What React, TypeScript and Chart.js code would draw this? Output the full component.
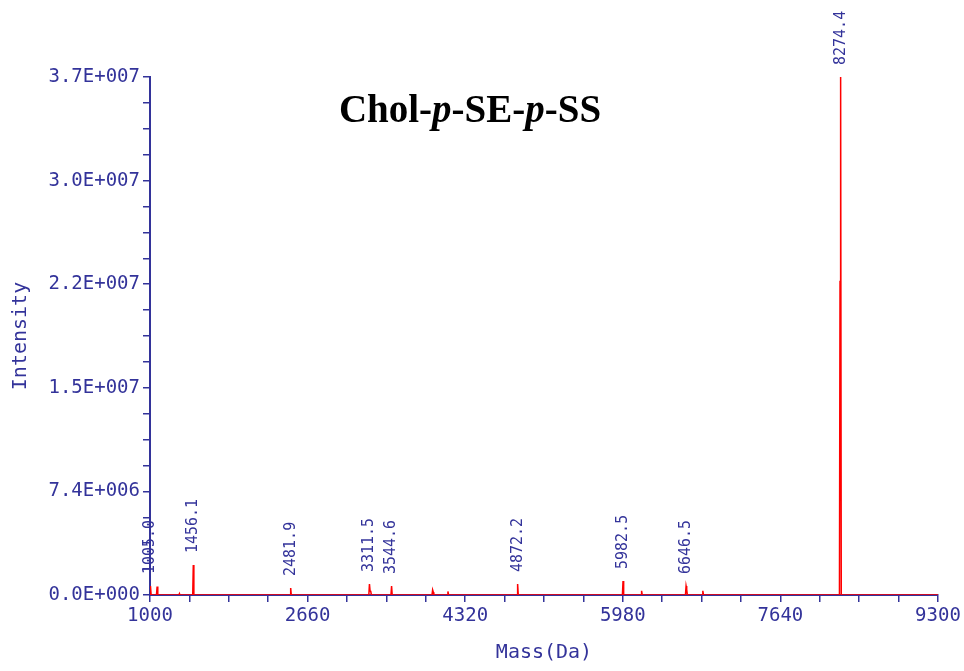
import React, { useEffect, useRef } from "react";
import { Chart, registerables } from "chart.js";

Chart.register(...registerables);

// Spectrum trace (mass in Da, intensity in counts)
const spectrumMass = [
  1000, 1005, 1012, 1068, 1075, 1082, 1305, 1310, 1316, 1450, 1456.1, 1462,
  2476, 2481.9, 2488, 3305, 3311.5, 3318, 3325, 3332, 3538, 3544.6, 3551,
  3970, 3977, 3984, 3990, 4132, 4138, 4145, 4866, 4872.2, 4879, 5976, 5982.5,
  5989, 6172, 6178, 6185, 6640, 6646.5, 6653, 6660, 6817, 6823, 6830, 8262,
  8268, 8274.4, 8281, 9300,
];
const spectrumIntensity = [
  0, 640000, 0, 0, 600000, 0, 0, 100000, 0, 0, 2140000, 0,
  0, 500000, 0, 0, 780000, 300000, 250000, 0, 0, 640000, 0,
  0, 360000, 200000, 0, 0, 250000, 0, 0, 780000, 0, 0, 1000000,
  0, 0, 300000, 0, 0, 640000, 400000, 0, 0, 300000, 0, 0,
  22400000, 37000000, 0, 0,
];

// Annotated peaks
const labelMass = [1005.0, 1456.1, 2481.9, 3311.5, 3544.6, 4872.2, 5982.5, 6646.5, 8274.4];
const labelIntensity = [640000, 2140000, 500000, 780000, 640000, 780000, 1000000, 640000, 37000000];
const labelText = ["1005.0", "1456.1", "2481.9", "3311.5", "3544.6", "4872.2", "5982.5", "6646.5", "8274.4"];

// Axis ticks
const xTickLabels = ["1000", "2660", "4320", "5980", "7640", "9300"];
const yTickLabels = ["0.0E+000", "7.4E+006", "1.5E+007", "2.2E+007", "3.0E+007", "3.7E+007"];

const NAVY = "#33339a";
const MONO = "'DejaVu Sans Mono', monospace";

const peakLabelPlugin = {
  id: "peakLabels",
  afterDatasetsDraw(chart: any) {
    const { ctx, scales } = chart;
    ctx.save();
    ctx.fillStyle = NAVY;
    ctx.font = `15px ${MONO}`;
    ctx.textAlign = "left";
    ctx.textBaseline = "middle";
    for (let i = 0; i < labelMass.length; i++) {
      const px = scales.x.getPixelForValue(labelMass[i]);
      const py = scales.y.getPixelForValue(labelIntensity[i]) - 12;
      ctx.save();
      ctx.translate(px, py);
      ctx.rotate(-Math.PI / 2);
      ctx.fillText(labelText[i], 0, 0);
      ctx.restore();
    }
    ctx.restore();
  },
};

const titleParts: [string, boolean][] = [
  ["Chol-", false],
  ["p", true],
  ["-SE-", false],
  ["p", true],
  ["-SS", false],
];

const titlePlugin = {
  id: "mixedTitle",
  afterDraw(chart: any) {
    const { ctx } = chart;
    ctx.save();
    ctx.fillStyle = "#000000";
    ctx.textBaseline = "alphabetic";
    ctx.textAlign = "left";
    const fontFor = (it: boolean) =>
      `${it ? "italic " : ""}bold 39px 'Liberation Serif', 'Times New Roman', serif`;
    let total = 0;
    for (const [t, it] of titleParts) {
      ctx.font = fontFor(it);
      total += ctx.measureText(t).width;
    }
    let x = 470 - total / 2;
    const y = 122;
    for (const [t, it] of titleParts) {
      ctx.font = fontFor(it);
      ctx.fillText(t, x, y);
      x += ctx.measureText(t).width;
    }
    ctx.restore();
  },
};

export default function App() {
  const ref = useRef<HTMLCanvasElement | null>(null);

  useEffect(() => {
    document.body.style.margin = "0";
    if (!ref.current) return;
    const data = spectrumMass.map((m, i) => ({ x: m, y: spectrumIntensity[i] }));
    const chart = new Chart(ref.current, {
      type: "line",
      data: {
        datasets: [
          {
            data,
            borderColor: "#ff0000",
            borderWidth: 1.5,
            pointRadius: 0,
            tension: 0,
            fill: false,
          },
        ],
      },
      options: {
        animation: false,
        responsive: false,
        layout: { padding: { left: 0, right: 26, top: 77, bottom: 0 } },
        plugins: {
          legend: { display: false },
          tooltip: { enabled: false },
          title: { display: false },
        },
        scales: {
          x: {
            type: "linear",
            min: 1000,
            max: 9300,
            afterFit: (s: any) => {
              s.height = 76;
            },
            afterBuildTicks: (s: any) => {
              const t = [];
              for (let k = 0; k <= 20; k++) t.push({ value: 1000 + 415 * k });
              s.ticks = t;
            },
            ticks: {
              autoSkip: false,
              maxRotation: 0,
              padding: 3,
              color: NAVY,
              font: { family: MONO, size: 19 },
              callback: (_v: any, i: number) => (i % 4 === 0 ? xTickLabels[i / 4] : ""),
            },
            grid: {
              drawOnChartArea: false,
              drawTicks: true,
              tickLength: 7,
              color: NAVY,
              lineWidth: 1.5,
            },
            border: { display: true, color: NAVY, width: 2 },
            title: {
              display: true,
              text: "Mass(Da)",
              color: NAVY,
              font: { family: MONO, size: 20 },
              padding: { top: 0, bottom: 6 },
            },
          },
          y: {
            type: "linear",
            min: 0,
            max: 37000000,
            afterFit: (s: any) => {
              s.width = 150;
            },
            afterBuildTicks: (s: any) => {
              const t = [];
              for (let k = 0; k <= 20; k++) t.push({ value: 1850000 * k });
              s.ticks = t;
            },
            ticks: {
              autoSkip: false,
              padding: 3,
              color: NAVY,
              font: { family: MONO, size: 19 },
              callback: (_v: any, i: number) => (i % 4 === 0 ? yTickLabels[i / 4] : ""),
            },
            grid: {
              drawOnChartArea: false,
              drawTicks: true,
              tickLength: 7,
              color: NAVY,
              lineWidth: 1.5,
            },
            border: { display: true, color: NAVY, width: 2 },
            title: {
              display: true,
              text: "Intensity",
              color: NAVY,
              font: { family: MONO, size: 20 },
              padding: { top: 9, bottom: 0 },
            },
          },
        },
      },
      plugins: [peakLabelPlugin, titlePlugin],
    });
    return () => chart.destroy();
  }, []);

  return (
    <div style={{ width: 964, height: 671, background: "#ffffff" }}>
      <canvas ref={ref} width={964} height={671} style={{ display: "block" }} />
    </div>
  );
}
